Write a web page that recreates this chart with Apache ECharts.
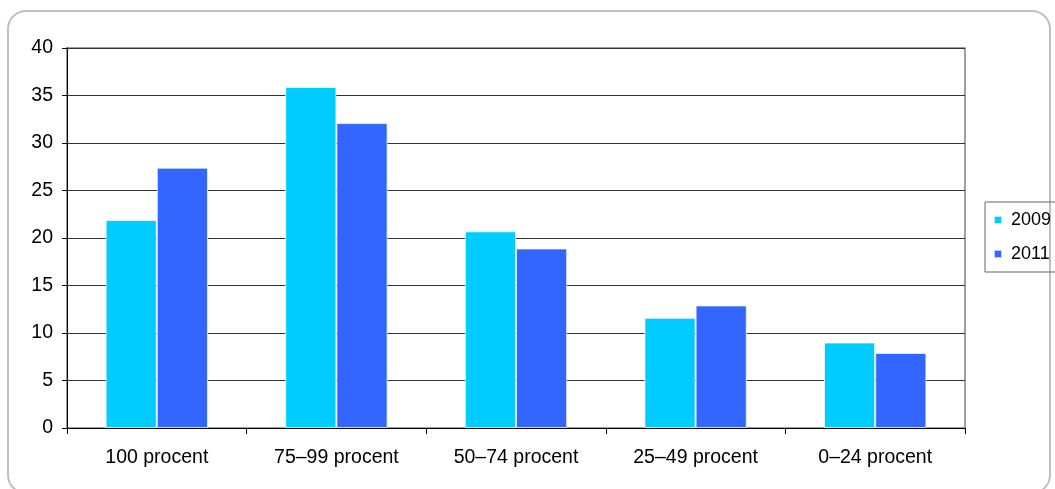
<!DOCTYPE html>
<html>
<head>
<meta charset="utf-8">
<script src="https://cdn.jsdelivr.net/npm/echarts@6/dist/echarts.min.js"></script>
<style>
html,body{margin:0;padding:0;background:#fff;}
#chart{width:1055px;height:489px;}
</style>
</head>
<body>
<div id="chart"></div>
<script>
const categories = ['100 procent', '75–99 procent', '50–74 procent', '25–49 procent', '0–24 procent'];
const values2009 = [21.9, 35.9, 20.7, 11.6, 9.0];
const values2011 = [27.4, 32.1, 18.9, 12.9, 7.9];
const seriesNames = ['2009', '2011'];
const yTicks = {min: 0, max: 40, step: 5};

const FONT = '"Liberation Sans", Arial, sans-serif';
const chart = echarts.init(document.getElementById('chart'), null, {renderer: 'canvas'});
chart.setOption({
  animation: false,
  backgroundColor: '#ffffff',
  graphic: [{
    type: 'rect',
    z: -10,
    shape: {x: 8, y: 11, width: 1042, height: 482, r: 18},
    style: {fill: 'none', stroke: '#c0c0c0', lineWidth: 2}
  }],
  grid: {
    left: 67, right: 90, top: 48, bottom: 61,
    show: true, borderColor: '#808080', borderWidth: 1.5, backgroundColor: 'transparent'
  },
  legend: {
    orient: 'vertical',
    left: 985, top: 202,
    padding: [9, 14, 9, 8],
    itemGap: 16,
    itemWidth: 8, itemHeight: 8,
    icon: 'rect',
    borderColor: '#666666', borderWidth: 1,
    textStyle: {fontFamily: FONT, fontSize: 18, color: '#000', lineHeight: 18, padding: [0, 0, 0, 4]},
    data: seriesNames
  },
  xAxis: {
    type: 'category',
    data: categories,
    axisLine: {lineStyle: {color: '#000', width: 1}},
    axisTick: {show: true, length: 6, lineStyle: {color: '#000'}},
    axisLabel: {fontFamily: FONT, fontSize: 19.5, color: '#000', margin: 20},
    splitLine: {show: false}
  },
  yAxis: {
    type: 'value',
    min: yTicks.min, max: yTicks.max, interval: yTicks.step,
    axisLine: {show: true, lineStyle: {color: '#000', width: 1}},
    axisTick: {show: true, length: 5, lineStyle: {color: '#000'}},
    axisLabel: {fontFamily: FONT, fontSize: 19.5, color: '#000', margin: 14},
    splitLine: {show: true, lineStyle: {color: '#333333', width: 1}}
  },
  series: [
    {
      name: seriesNames[0], type: 'bar', data: values2009,
      barGap: '0%', barCategoryGap: '43%',
      itemStyle: {color: '#00CCFF', borderColor: 'rgba(255,255,255,0.7)', borderWidth: 1}
    },
    {
      name: seriesNames[1], type: 'bar', data: values2011,
      barGap: '0%', barCategoryGap: '43%',
      itemStyle: {color: '#3366FF', borderColor: 'rgba(255,255,255,0.7)', borderWidth: 1}
    }
  ]
});
</script>
</body>
</html>
